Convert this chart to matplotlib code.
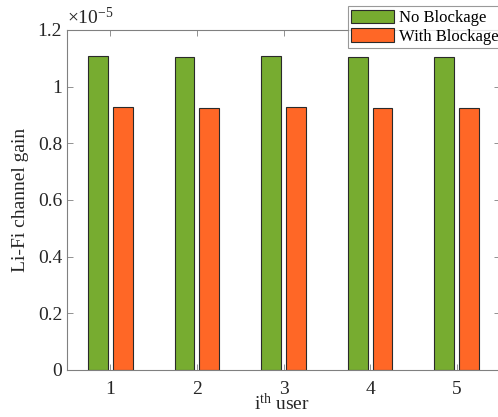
import matplotlib
matplotlib.use("Agg")
import matplotlib.pyplot as plt
import numpy as np
from matplotlib.ticker import FuncFormatter, FixedLocator

plt.rcParams['font.family'] = ['Liberation Serif', 'DejaVu Serif']
plt.rcParams['mathtext.fontset'] = 'custom'
plt.rcParams['mathtext.rm'] = 'Liberation Serif'
plt.rcParams['mathtext.it'] = 'Liberation Serif:italic'

users = [1, 2, 3, 4, 5]
gain_no_blockage = [1.107e-5, 1.104e-5, 1.107e-5, 1.106e-5, 1.104e-5]
gain_with_blockage = [0.930e-5, 0.925e-5, 0.928e-5, 0.924e-5, 0.926e-5]
series_labels = ['No Blockage', 'With Blockage']
series_colors = ['#77AC30', '#FF6726']
y_ticks = [0, 0.2e-5, 0.4e-5, 0.6e-5, 0.8e-5, 1.0e-5, 1.2e-5]

W, H = 498, 417
fig = plt.figure(figsize=(W / 100, H / 100), dpi=100)
ax = fig.add_axes([67 / W, (H - 370) / H, 433 / W, 340 / H])

x = np.array(users, dtype=float)
bw = 0.2286
off = 0.143
axis_gray = '#262626'
for vals, dx, col, lab in zip([gain_no_blockage, gain_with_blockage], [-off, off],
                              series_colors, series_labels):
    ax.bar(x + dx, vals, width=bw, color=col, edgecolor='#2a2a2a', linewidth=0.8, label=lab)

ax.set_xlim(0.5, 5.5)
ax.set_ylim(0, 1.2e-5)
ax.xaxis.set_major_locator(FixedLocator(users))
ax.yaxis.set_major_locator(FixedLocator(y_ticks))
ax.yaxis.set_major_formatter(FuncFormatter(lambda v, p: '%g' % round(v / 1e-5, 6)))

for s in ax.spines.values():
    s.set_color('#808080')
    s.set_linewidth(0.8)
ax.tick_params(direction='in', length=4, width=0.6, colors='#808080',
               labelcolor=axis_gray, labelsize=14, top=True, right=True)
ax.tick_params(axis='x', pad=8)

ax.text(0.0, 1.005, r'$\times 10^{-5}$', transform=ax.transAxes, fontsize=14,
        color=axis_gray, ha='left', va='bottom')

ax.set_ylabel('Li-Fi channel gain', fontsize=14, color=axis_gray, labelpad=6)
ax.text(0.495, -0.098, r'$\mathrm{i^{th}\ user}$', transform=ax.transAxes,
        fontsize=14, color=axis_gray, ha='center', va='center')

leg = ax.legend(loc='upper right', bbox_to_anchor=(1.005, 1.07), fontsize=12,
                frameon=True, fancybox=False, borderpad=0.2, labelspacing=0.1,
                handlelength=2.6, handleheight=0.9, handletextpad=0.3, borderaxespad=0)
leg.get_frame().set_edgecolor('#808080')
leg.get_frame().set_linewidth(0.8)
for t in leg.get_texts():
    t.set_color('#000000')

fig.savefig('out.png', dpi=100)
